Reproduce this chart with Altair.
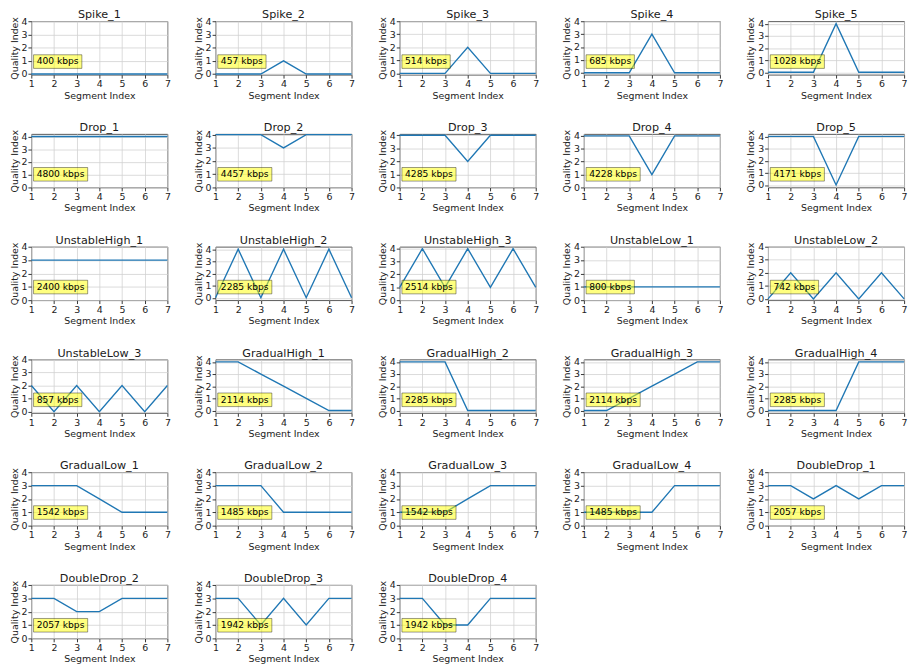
import altair as alt
import pandas as pd

segments = [1, 2, 3, 4, 5, 6, 7]

names = [
    "Spike_1", "Spike_2", "Spike_3", "Spike_4", "Spike_5",
    "Drop_1", "Drop_2", "Drop_3", "Drop_4", "Drop_5",
    "UnstableHigh_1", "UnstableHigh_2", "UnstableHigh_3", "UnstableLow_1", "UnstableLow_2",
    "UnstableLow_3", "GradualHigh_1", "GradualHigh_2", "GradualHigh_3", "GradualHigh_4",
    "GradualLow_1", "GradualLow_2", "GradualLow_3", "GradualLow_4", "DoubleDrop_1",
    "DoubleDrop_2", "DoubleDrop_3", "DoubleDrop_4",
]

quality = [
    [0, 0, 0, 0, 0, 0, 0],
    [0, 0, 0, 1, 0, 0, 0],
    [0, 0, 0, 2, 0, 0, 0],
    [0, 0, 0, 3, 0, 0, 0],
    [0, 0, 0, 4, 0, 0, 0],
    [4, 4, 4, 4, 4, 4, 4],
    [4, 4, 4, 3, 4, 4, 4],
    [4, 4, 4, 2, 4, 4, 4],
    [4, 4, 4, 1, 4, 4, 4],
    [4, 4, 4, 0, 4, 4, 4],
    [3, 3, 3, 3, 3, 3, 3],
    [0, 4, 0, 4, 0, 4, 0],
    [1, 4, 1, 4, 1, 4, 1],
    [1, 1, 1, 1, 1, 1, 1],
    [0, 2, 0, 2, 0, 2, 0],
    [2, 0, 2, 0, 2, 0, 2],
    [4, 4, 3, 2, 1, 0, 0],
    [4, 4, 4, 0, 0, 0, 0],
    [0, 0, 1, 2, 3, 4, 4],
    [0, 0, 0, 0, 4, 4, 4],
    [3, 3, 3, 2, 1, 1, 1],
    [3, 3, 3, 1, 1, 1, 1],
    [1, 1, 1, 2, 3, 3, 3],
    [1, 1, 1, 1, 3, 3, 3],
    [3, 3, 2, 3, 2, 3, 3],
    [3, 3, 2, 2, 3, 3, 3],
    [3, 3, 1, 3, 1, 3, 3],
    [3, 3, 1, 1, 3, 3, 3],
]

bitrates = [
    "400 kbps", "457 kbps", "514 kbps", "685 kbps", "1028 kbps",
    "4800 kbps", "4457 kbps", "4285 kbps", "4228 kbps", "4171 kbps",
    "2400 kbps", "2285 kbps", "2514 kbps", "800 kbps", "742 kbps",
    "857 kbps", "2114 kbps", "2285 kbps", "2114 kbps", "2285 kbps",
    "1542 kbps", "1485 kbps", "1542 kbps", "1485 kbps", "2057 kbps",
    "2057 kbps", "1942 kbps", "1942 kbps",
]

W, H = 140, 55
FONT = "DejaVu Sans"
FS = 9.7          # axis text size
BFS = 9.4         # annotation text size
TFS = 11.5        # panel title size
CHAR_W = {"0": .636, "1": .636, "2": .636, "3": .636, "4": .636, "5": .636,
          "6": .636, "7": .636, "8": .636, "9": .636, " ": .318,
          "k": .579, "b": .635, "p": .635, "s": .521}


def text_px(s, size):
    return sum(CHAR_W.get(c, 0.6) for c in s) * size


def y_domain(vals):
    lo, hi = min(vals), max(vals)
    if hi == lo:
        pad = abs(lo) * 0.05 if lo != 0 else 0.055
    else:
        pad = 0.05 * (hi - lo)
    return [min(lo - pad, 0), max(hi + pad, 4)]


def panel(i):
    df = pd.DataFrame({"seg": segments, "q": quality[i]})
    dom = y_domain(quality[i])
    line = alt.Chart(df).mark_line(color="#1f77b4", strokeWidth=1.4).encode(
        x=alt.X("seg:Q",
                scale=alt.Scale(domain=[1, 7], nice=False, zero=False),
                axis=alt.Axis(values=segments, title="Segment Index", format="d")),
        y=alt.Y("q:Q",
                scale=alt.Scale(domain=dom, nice=False, zero=False),
                axis=alt.Axis(values=[0, 1, 2, 3, 4], title="Quality Index", format="d")),
    )
    lab = pd.DataFrame({"label": [bitrates[i]], "name": [names[i]]})
    bw = text_px(bitrates[i], BFS) + 6.5
    box = alt.Chart(lab).mark_rect(
        fill="yellow", fillOpacity=0.5, stroke="black", strokeOpacity=0.5, strokeWidth=0.8
    ).encode(
        x=alt.value(2.3), x2=alt.value(2.3 + bw),
        y=alt.value(H - 20.5), y2=alt.value(H - 6.5),
    )
    txt = alt.Chart(lab).mark_text(
        align="left", baseline="middle", fontSize=BFS, font=FONT, color="black",
        fontWeight="normal"
    ).encode(
        x=alt.value(5.5), y=alt.value(H - 13.5), text="label:N"
    )
    ttl = alt.Chart(lab).mark_text(
        align="center", baseline="alphabetic", fontSize=TFS, font=FONT, color="#1a1a1a",
        fontWeight="normal"
    ).encode(
        x=alt.value(W / 2), y=alt.value(-3), text="name:N"
    )
    return alt.layer(line, box, txt, ttl).properties(width=W, height=H)


chart = alt.concat(
    *[panel(i) for i in range(len(names))],
    columns=5,
    spacing={"row": 21, "column": 21.5},
).properties(
    padding={"top": -9, "left": 0, "right": 0, "bottom": 0}, background="white"
).configure_axis(
    labelFont=FONT, labelFontSize=FS, labelColor="#222",
    titleFont=FONT, titleFontSize=FS, titleFontWeight="normal", titleColor="#222",
    gridColor="#d0d0d0", gridWidth=0.8,
    tickColor="#333", tickSize=3.5, domain=False,
    labelPadding=1, titlePadding=2, labelFlush=False, labelOverlap=False,
).configure_view(
    stroke="#444", strokeWidth=0.9
)

chart.save("out.html", embed_options={"renderer": "svg", "actions": False})
